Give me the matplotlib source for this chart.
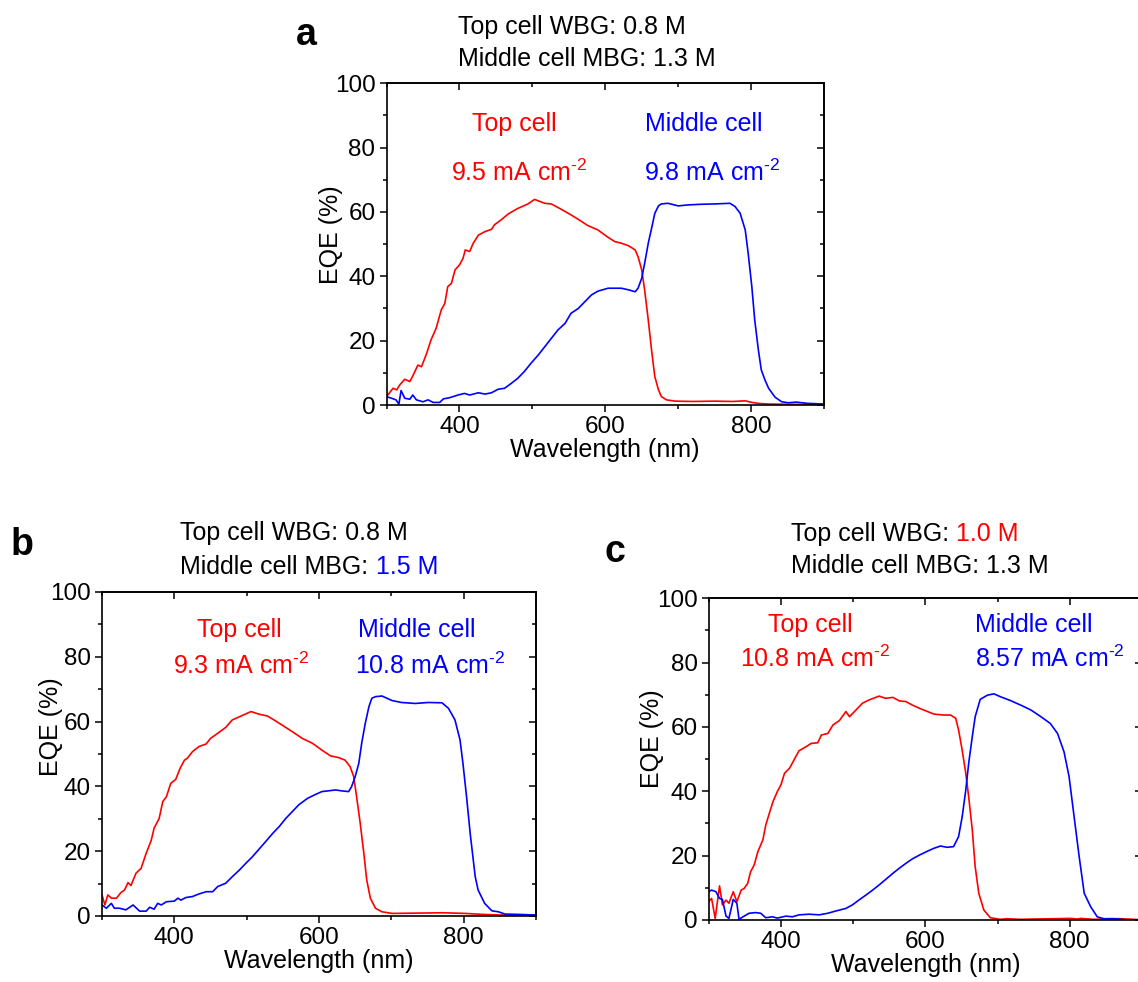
import matplotlib
matplotlib.use("Agg")
import matplotlib.pyplot as plt
from matplotlib.ticker import MultipleLocator

plt.rcParams['font.family'] = ['Liberation Sans', 'DejaVu Sans']
plt.rcParams['mathtext.fontset'] = 'custom'
plt.rcParams['mathtext.rm'] = 'Liberation Sans'
plt.rcParams['mathtext.default'] = 'regular'

RED = '#ff0000'
BLUE = '#0000ff'

# ---------------- data (wavelength nm, EQE %) ----------------
# panel a : WBG 0.8 M / MBG 1.3 M
a_top_wl = [300, 309, 314, 318, 325, 332, 336, 343, 348, 355, 361, 368, 375, 380, 384, 389, 394, 400,
            405, 408, 414, 419, 426, 435, 444, 448, 458, 467, 480, 494, 503, 517, 526, 540, 553, 563,
            576, 590, 604, 613, 622, 632, 641, 645, 650, 654, 659, 664, 668, 673, 677, 684, 696, 720,
            750, 775, 792, 801, 810, 824, 860, 900]
a_top_eqe = [2.6, 5.2, 4.7, 6.2, 8.0, 7.3, 9.0, 12.4, 11.9, 16.0, 20.2, 23.8, 29.5, 31.6, 36.8, 37.8,
             42.0, 43.5, 45.6, 48.2, 47.7, 50.3, 52.8, 53.9, 54.6, 56.0, 57.7, 59.4, 61.1, 62.5, 63.9,
             62.7, 62.5, 60.8, 59.1, 57.7, 55.8, 54.4, 52.1, 50.8, 50.3, 49.5, 48.2, 46.1, 42.0, 35.8,
             26.4, 16.1, 8.8, 4.7, 2.6, 1.6, 1.2, 1.1, 1.2, 1.1, 1.3, 0.8, 0.5, 0.3, 0.2, 0.2]
a_mid_wl = [300, 307, 313, 317, 320, 325, 332, 336, 341, 350, 357, 364, 373, 378, 387, 398, 407, 414,
            426, 435, 444, 453, 462, 471, 480, 489, 499, 508, 517, 526, 535, 545, 553, 563, 572, 581,
            590, 604, 622, 632, 641, 645, 650, 654, 659, 664, 668, 673, 677, 686, 700, 714, 732, 750,
            771, 778, 785, 792, 796, 801, 805, 810, 814, 819, 824, 833, 842, 851, 862, 878, 900]
a_mid_eqe = [2.6, 2.1, 1.6, 0.3, 4.5, 2.1, 1.8, 3.1, 1.6, 1.0, 1.6, 0.8, 0.8, 1.9, 2.3, 3.1, 3.6, 3.1,
             3.8, 3.4, 3.8, 4.9, 5.2, 6.7, 8.3, 10.4, 13.2, 15.5, 18.1, 20.7, 23.3, 25.4, 28.5, 30.0,
             32.1, 34.2, 35.4, 36.3, 36.3, 35.8, 35.2, 36.3, 39.4, 44.0, 50.3, 55.4, 59.6, 61.9, 62.5,
             62.7, 61.9, 62.2, 62.4, 62.5, 62.7, 61.7, 59.6, 54.4, 47.2, 36.8, 26.4, 17.1, 10.9, 7.8,
             5.2, 2.4, 1.0, 0.7, 0.9, 0.5, 0.3]

# panel b : WBG 0.8 M / MBG 1.5 M
b_top_wl = [300, 304, 308, 313, 320, 326, 331, 336, 340, 347, 354, 361, 368, 372, 379, 384, 389, 395,
            402, 408, 414, 418, 425, 434, 444, 450, 460, 471, 480, 492, 506, 517, 529, 540, 554, 563,
            577, 591, 604, 616, 627, 636, 643, 648, 652, 657, 662, 666, 671, 678, 687, 701, 740, 770,
            802, 825, 852, 900]
b_top_eqe = [6.5, 3.4, 6.5, 5.5, 5.5, 7.2, 8.0, 10.3, 9.4, 13.2, 14.7, 19.3, 23.3, 27.1, 30.1, 35.3,
             36.8, 40.9, 42.2, 45.6, 48.1, 48.7, 50.7, 52.3, 53.1, 54.8, 56.4, 58.2, 60.5, 61.7, 63.1,
             62.3, 61.7, 60.2, 58.2, 56.9, 54.8, 53.3, 51.2, 49.4, 48.9, 48.1, 46.1, 43.0, 36.8, 28.6,
             19.3, 11.1, 5.5, 2.4, 1.3, 0.8, 0.9, 1.0, 0.8, 0.5, 0.3, 0.3]
b_mid_wl = [300, 306, 313, 317, 324, 333, 343, 352, 361, 366, 372, 377, 382, 389, 400, 405, 409, 416,
            425, 434, 444, 453, 460, 471, 480, 490, 499, 508, 517, 526, 536, 545, 554, 563, 572, 584,
            595, 604, 623, 632, 641, 645, 650, 655, 659, 664, 669, 673, 678, 687, 701, 714, 733, 751,
            770, 779, 788, 795, 799, 804, 809, 816, 820, 829, 839, 848, 857, 875, 900]
b_mid_eqe = [3.4, 2.4, 3.9, 2.4, 2.4, 1.9, 3.4, 1.5, 1.5, 2.7, 2.1, 3.9, 3.4, 4.4, 4.6, 5.5, 4.9, 5.7,
             6.0, 6.8, 7.5, 7.5, 9.1, 10.1, 12.1, 14.2, 16.3, 18.3, 20.6, 22.9, 25.5, 27.6, 30.1, 32.2,
             34.3, 36.3, 37.5, 38.4, 38.9, 38.6, 38.4, 39.9, 43.0, 47.1, 53.3, 59.5, 64.6, 67.2, 67.7,
             67.9, 66.5, 65.9, 65.6, 65.9, 65.8, 64.1, 60.5, 54.3, 47.1, 36.8, 25.5, 12.1, 8.0, 3.9,
             1.6, 1.3, 0.6, 0.5, 0.3]

# panel c : WBG 1.0 M / MBG 1.3 M
c_top_wl = [300, 304, 309, 315, 319, 324, 328, 334, 339, 345, 349, 354, 358, 363, 368, 375, 379, 384,
            389, 395, 400, 405, 412, 418, 425, 435, 442, 451, 456, 465, 472, 481, 490, 495, 504, 513,
            522, 536, 545, 555, 564, 573, 582, 592, 603, 612, 626, 635, 642, 646, 651, 656, 660, 665,
            669, 674, 681, 690, 704, 713, 732, 750, 778, 801, 810, 815, 833, 856, 870, 900]
c_top_eqe = [5.7, 6.7, 0.5, 10.6, 4.7, 6.2, 5.2, 8.8, 5.7, 9.3, 9.8, 11.4, 15.0, 17.1, 21.2, 24.9,
             29.5, 33.2, 36.8, 39.9, 42.0, 45.6, 47.2, 49.7, 52.6, 53.9, 54.9, 55.1, 57.5, 58.0, 60.6,
             62.0, 64.8, 63.2, 65.3, 67.4, 68.4, 69.6, 68.9, 69.2, 68.1, 67.9, 66.8, 65.8, 64.8, 64.0,
             63.7, 63.7, 62.7, 59.1, 52.8, 45.6, 38.3, 28.0, 16.6, 8.3, 3.1, 0.7, 0.2, 0.4, 0.2, 0.3,
             0.4, 0.5, 0.3, 0.5, 0.2, 0.4, 0.4, 0.1]
c_mid_wl = [300, 304, 310, 315, 319, 324, 328, 334, 339, 342, 349, 356, 365, 372, 379, 388, 395, 407,
            416, 425, 439, 453, 465, 476, 490, 499, 508, 518, 527, 536, 545, 555, 564, 573, 582, 592,
            603, 612, 621, 630, 639, 646, 651, 656, 660, 665, 669, 676, 686, 695, 704, 718, 732, 746,
            760, 773, 783, 792, 799, 806, 813, 820, 829, 838, 847, 861, 880, 900]
c_mid_eqe = [8.8, 9.3, 8.8, 6.7, 6.4, 1.2, 0.5, 6.4, 5.2, 0.2, 1.2, 2.1, 2.3, 2.1, 0.7, 1.0, 0.6, 1.2,
             1.0, 1.6, 1.8, 1.6, 2.1, 2.8, 3.6, 4.7, 6.2, 7.8, 9.3, 10.9, 12.6, 14.5, 16.1, 17.6, 19.0,
             20.2, 21.4, 22.3, 23.0, 22.6, 22.8, 25.9, 32.1, 40.4, 48.7, 57.0, 63.2, 68.6, 69.9, 70.3,
             69.4, 68.2, 66.8, 65.3, 63.2, 61.1, 58.0, 52.3, 44.6, 32.1, 19.7, 8.3, 4.1, 1.0, 0.4, 0.4,
             0.0, 0.0]

top_jsc = ['9.5', '9.3', '10.8']
mid_jsc = ['9.8', '10.8', '8.57']
wbg_conc = ['0.8 M', '0.8 M', '1.0 M']
mbg_conc = ['1.3 M', '1.5 M', '1.3 M']

W, H = 1138, 982
UNIT = r' mA cm$^{\text{-2}}$'


def fx(x):
    return x / W


def fy(y):
    return 1 - y / H


def make_panel(fig, rect, top, mid, ylab_x, ylab_y):
    ax = fig.add_axes(rect)
    ax.plot(top[0], top[1], color=RED, lw=1.2)
    ax.plot(mid[0], mid[1], color=BLUE, lw=1.2)
    ax.set_xlim(300, 900)
    ax.set_ylim(0, 100)
    ax.xaxis.set_major_locator(MultipleLocator(200))
    ax.xaxis.set_minor_locator(MultipleLocator(100))
    ax.yaxis.set_major_locator(MultipleLocator(20))
    ax.yaxis.set_minor_locator(MultipleLocator(10))
    ax.tick_params(which='major', direction='out', length=5, width=1.1, labelsize=17.5, pad=3)
    ax.tick_params(which='minor', direction='out', length=3, width=1.1)
    for s in ax.spines.values():
        s.set_linewidth(1.2)
    # mirrored axes with inward ticks
    top_ax = ax.secondary_xaxis('top')
    top_ax.xaxis.set_major_locator(MultipleLocator(200))
    top_ax.xaxis.set_minor_locator(MultipleLocator(100))
    top_ax.tick_params(which='both', direction='in', labeltop=False, width=1.1)
    top_ax.tick_params(which='major', length=5)
    top_ax.tick_params(which='minor', length=3)
    right_ax = ax.secondary_yaxis('right')
    right_ax.yaxis.set_major_locator(MultipleLocator(20))
    right_ax.yaxis.set_minor_locator(MultipleLocator(10))
    right_ax.tick_params(which='both', direction='in', labelright=False, width=1.1)
    right_ax.tick_params(which='major', length=5)
    right_ax.tick_params(which='minor', length=3)
    top_ax.spines['top'].set_linewidth(1.2)
    right_ax.spines['right'].set_linewidth(1.2)
    ax.set_xlabel('Wavelength (nm)', fontsize=18, labelpad=0)
    ax.set_ylabel('EQE (%)', fontsize=18)
    ax.yaxis.set_label_coords(ylab_x, ylab_y)
    return ax


def two_part(fig, x, y, first, second, color):
    t = fig.text(x, y, first, fontsize=18, ha='left', va='baseline')
    fig.canvas.draw()
    ex = t.get_window_extent()
    fig.text(ex.x1 / fig.dpi / fig.get_figwidth(), y, second, fontsize=18,
             ha='left', va='baseline', color=color)


fig = plt.figure(figsize=(W / 100, H / 100), dpi=100)

# panel a
ax_a = make_panel(fig, [fx(386.5), fy(405), fx(824 - 386.5), (405 - 83.3) / H],
                  (a_top_wl, a_top_eqe), (a_mid_wl, a_mid_eqe), -0.10, 0.53)
ax_a.text(417, 85.2, 'Top cell', color=RED, fontsize=18, va='baseline')
ax_a.text(388, 69.5, top_jsc[0] + UNIT, color=RED, fontsize=18, va='baseline')
ax_a.text(654, 85.2, 'Middle cell', color=BLUE, fontsize=18, va='baseline')
ax_a.text(653, 69.5, mid_jsc[0] + UNIT, color=BLUE, fontsize=18, va='baseline')

# panel b
ax_b = make_panel(fig, [fx(102), fy(916), fx(536 - 102), (916 - 592) / H],
                  (b_top_wl, b_top_eqe), (b_mid_wl, b_mid_eqe), -0.09, 0.585)
ax_b.text(432, 86, 'Top cell', color=RED, fontsize=18, va='baseline')
ax_b.text(398, 74.8, top_jsc[1] + UNIT, color=RED, fontsize=18, va='baseline')
ax_b.text(654, 86, 'Middle cell', color=BLUE, fontsize=18, va='baseline')
ax_b.text(650, 74.8, mid_jsc[1] + UNIT, color=BLUE, fontsize=18, va='baseline')

# panel c (runs past the right edge, as in the source figure)
ax_c = make_panel(fig, [fx(708.7), fy(920), fx(1142 - 708.7), (920 - 598.3) / H],
                  (c_top_wl, c_top_eqe), (c_mid_wl, c_mid_eqe), -0.103, 0.565)
ax_c.text(382, 89.4, 'Top cell', color=RED, fontsize=18, va='baseline')
ax_c.text(344, 78.6, top_jsc[2] + UNIT, color=RED, fontsize=18, va='baseline')
ax_c.text(669, 89.4, 'Middle cell', color=BLUE, fontsize=18, va='baseline')
ax_c.text(669, 78.6, mid_jsc[2] + UNIT, color=BLUE, fontsize=18, va='baseline')

# headers
fig.text(fx(458), fy(34), 'Top cell WBG: ' + wbg_conc[0], fontsize=18, va='baseline')
fig.text(fx(458), fy(65.5), 'Middle cell MBG: ' + mbg_conc[0], fontsize=18, va='baseline')
fig.text(fx(180.4), fy(540), 'Top cell WBG: ' + wbg_conc[1], fontsize=18, va='baseline')
two_part(fig, fx(180.4), fy(573.5), 'Middle cell MBG: ', mbg_conc[1], BLUE)
two_part(fig, fx(791), fy(541), 'Top cell WBG: ', wbg_conc[2], RED)
fig.text(fx(791), fy(573), 'Middle cell MBG: ' + mbg_conc[2], fontsize=18, va='baseline')

# panel letters
fig.text(fx(296), fy(45), 'a', fontsize=27, fontweight='bold', va='baseline')
fig.text(fx(10.7), fy(555.3), 'b', fontsize=27, fontweight='bold', va='baseline')
fig.text(fx(604.3), fy(561.5), 'c', fontsize=27, fontweight='bold', va='baseline')

fig.savefig('out.png', dpi=100)
